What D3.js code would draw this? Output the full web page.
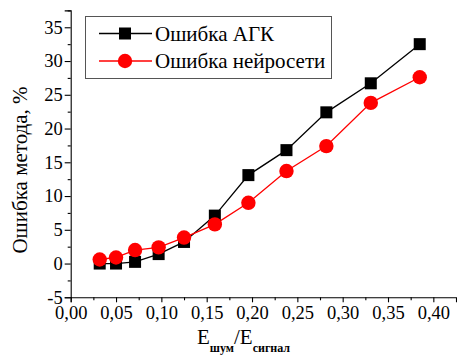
<!DOCTYPE html>
<html><head><meta charset="utf-8">
<script src="https://cdn.jsdelivr.net/npm/d3@7"></script>
</head>
<body style="margin:0;background:#fff">
<svg id="c" width="457" height="362" style="display:block"></svg>
<script>
const xValues = [0.032, 0.050, 0.071, 0.097, 0.125, 0.159, 0.196, 0.238, 0.282, 0.331, 0.385];
const agkError = [0.0, 0.0, 0.25, 1.4, 3.2, 7.1, 13.1, 16.8, 22.4, 26.7, 32.5];
const nnError  = [0.6, 0.9, 2.0, 2.4, 3.85, 5.8, 9.0, 13.7, 17.4, 23.8, 27.6];
const seriesNames = ["Ошибка АГК", "Ошибка нейросети"];
const xTicks = [0, 0.05, 0.10, 0.15, 0.20, 0.25, 0.30, 0.35, 0.40];
const yTicks = [-5, 0, 5, 10, 15, 20, 25, 30, 35];
const yLabel = "Ошибка метода, %";

const FONT = "'Liberation Serif', serif";
const svg = d3.select("#c");
const x = d3.scaleLinear().domain([0, 0.425]).range([70.7, 456]);
const y = d3.scaleLinear().domain([-5, 37.5]).range([297.3, 10.4]);
const fmt = d => d3.format(".2f")(d).replace(".", ",");

const xMinor = d3.range(0.025, 0.425, 0.05);
const yMinor = d3.range(-2.5, 38, 5);

const gx = svg.append("g").attr("transform", `translate(0,${y(-5)})`);
gx.call(d3.axisBottom(x).tickValues(xTicks).tickFormat(fmt).tickSizeOuter(0).tickSize(5).tickPadding(4));
gx.append("g").call(d3.axisBottom(x).tickValues(xMinor).tickFormat("").tickSize(3).tickSizeOuter(0))
  .select(".domain").remove();
const gy = svg.append("g").attr("transform", `translate(${x(0)},0)`);
gy.call(d3.axisLeft(y).tickValues(yTicks).tickFormat(d => d).tickSizeOuter(0).tickSize(6).tickPadding(2));
gy.append("g").call(d3.axisLeft(y).tickValues(yMinor).tickFormat("").tickSize(3).tickSizeOuter(0))
  .select(".domain").remove();
svg.selectAll(".tick text").attr("font-size", 18.5).attr("fill", "#000");
svg.selectAll(".domain, .tick line").attr("stroke", "#000").attr("stroke-width", 1.1);

const line = d3.line().x((d, i) => x(xValues[i])).y(d => y(d));
svg.append("path").datum(agkError).attr("d", line).attr("fill", "none").attr("stroke", "#000").attr("stroke-width", 1.3);
svg.append("path").datum(nnError).attr("d", line).attr("fill", "none").attr("stroke", "#ff0000").attr("stroke-width", 1.3);

svg.append("g").selectAll("rect").data(agkError).join("rect")
  .attr("x", (d, i) => x(xValues[i]) - 6).attr("y", d => y(d) - 6)
  .attr("width", 12).attr("height", 12).attr("fill", "#000");
svg.append("g").selectAll("circle").data(nnError).join("circle")
  .attr("cx", (d, i) => x(xValues[i])).attr("cy", d => y(d))
  .attr("r", 7.2).attr("fill", "#ff0000");

const lg = svg.append("g");
lg.append("rect").attr("x", 85.5).attr("y", 16.5).attr("width", 246).attr("height", 62)
  .attr("fill", "#fff").attr("stroke", "#555").attr("stroke-width", 1);
const rows = [{y: 33.5, c: "#000", sq: true}, {y: 61, c: "#ff0000", sq: false}];
rows.forEach((r, i) => {
  lg.append("line").attr("x1", 99).attr("x2", 152).attr("y1", r.y).attr("y2", r.y)
    .attr("stroke", r.c).attr("stroke-width", 1.3);
  if (r.sq) lg.append("rect").attr("x", 119).attr("y", r.y - 6).attr("width", 12).attr("height", 12).attr("fill", r.c);
  else lg.append("circle").attr("cx", 125).attr("cy", r.y).attr("r", 7.2).attr("fill", r.c);
  lg.append("text").attr("x", 155).attr("y", r.y + 7).attr("font-size", 21).attr("fill", "#000").text(seriesNames[i]);
});

svg.append("text").attr("transform", "translate(27,170) rotate(-90)").attr("text-anchor", "middle")
  .attr("font-size", 21).attr("fill", "#000").text(yLabel);

const xt = svg.append("text").attr("x", 197).attr("y", 344).attr("font-size", 21).attr("fill", "#000");
xt.append("tspan").text("E");
xt.append("tspan").attr("dy", 8).attr("font-size", 12).attr("font-weight", "bold").text("шум");
xt.append("tspan").attr("dy", -8).text("/E");
xt.append("tspan").attr("dy", 8).attr("font-size", 12).attr("font-weight", "bold").text("сигнал");

svg.selectAll("g").attr("font-family", FONT);
svg.selectAll("text, tspan").attr("font-family", FONT).style("font-family", FONT, "important");
</script></body></html>
